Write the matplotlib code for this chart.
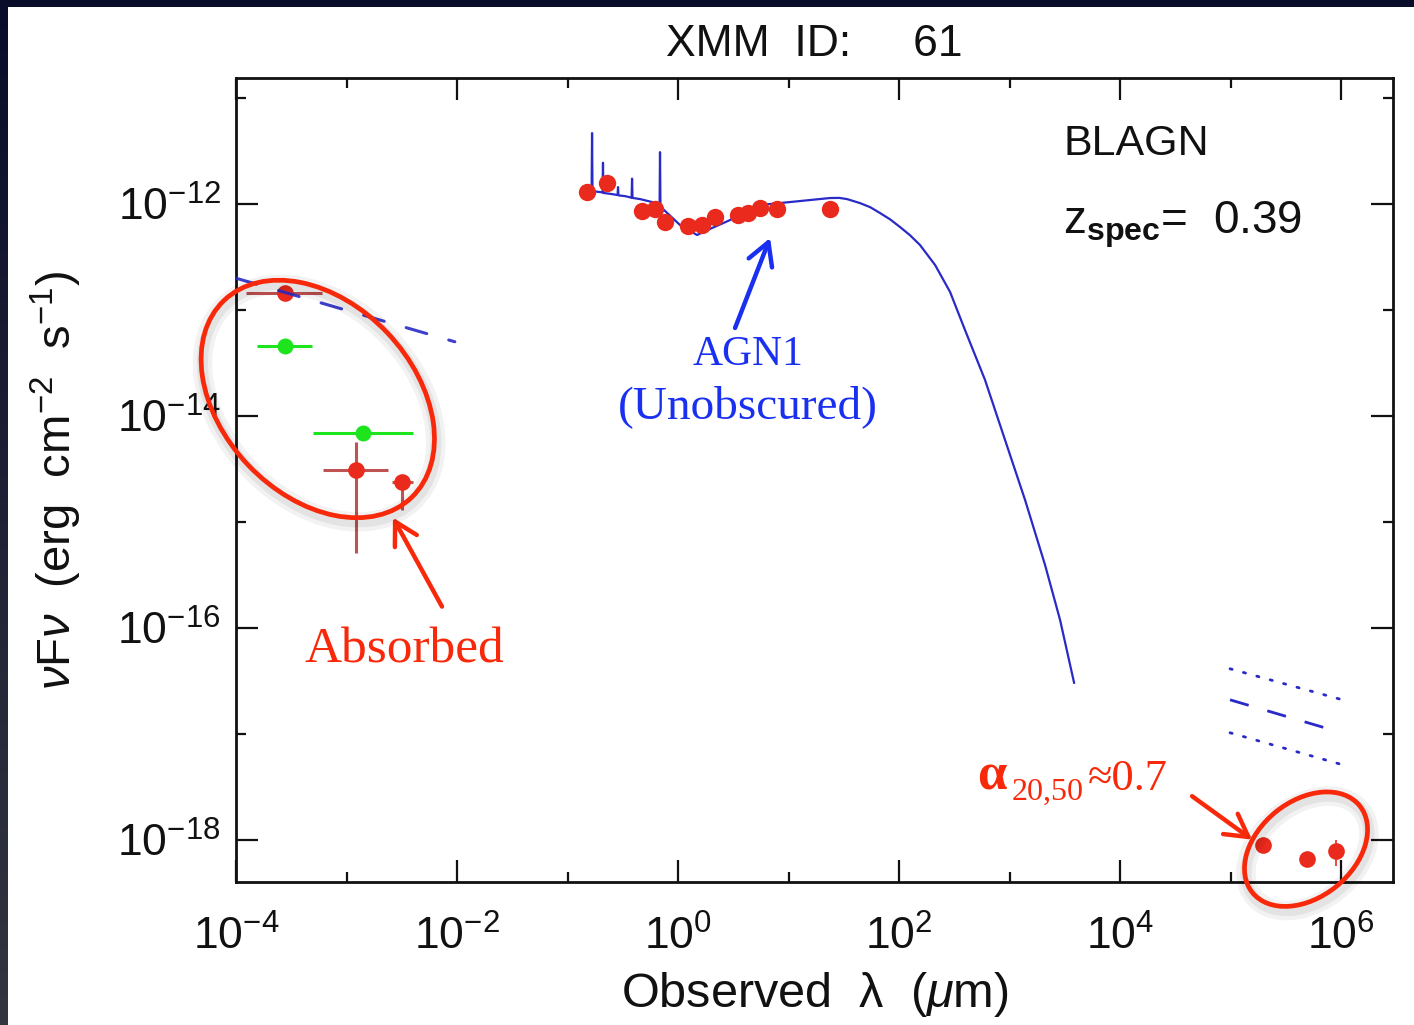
import numpy as np
import matplotlib
matplotlib.use('Agg')
import matplotlib.pyplot as plt
import matplotlib.patheffects as pe
from matplotlib.patches import Ellipse, Rectangle
from matplotlib.ticker import FixedLocator, FuncFormatter, NullFormatter
from matplotlib.colors import LinearSegmentedColormap

plt.rcParams['font.family'] = ['Liberation Sans', 'DejaVu Sans']
plt.rcParams['mathtext.fontset'] = 'custom'
plt.rcParams['mathtext.rm'] = 'Liberation Sans'
plt.rcParams['mathtext.it'] = 'Liberation Sans:italic'
plt.rcParams['mathtext.bf'] = 'Liberation Sans:bold'

# --- photometry (log10 lambda [um], log10 nuFnu [erg cm^-2 s^-1]) ---
# X-ray, red band
xr_red_lam = [-3.56, -2.91, -2.50]
xr_red_flux = [-12.84, -14.51, -14.62]
xr_red_lam_lo = [-3.91, -3.21, -2.59]
xr_red_lam_hi = [-3.22, -2.62, -2.40]
xr_red_flux_lo = [-12.84, -15.29, -14.89]
xr_red_flux_hi = [-12.84, -14.25, -14.62]

# X-ray, green band
xr_grn_lam = [-3.56, -2.85]
xr_grn_flux = [-13.34, -14.16]
xr_grn_lam_lo = [-3.81, -3.30]
xr_grn_lam_hi = [-3.31, -2.40]

# X-ray power law
xr_pl_lam = [-4.0, -2.02]
xr_pl_flux = [-12.70, -13.30]

# optical / IR photometry
opt_lam = [-0.823, -0.643, -0.326, -0.208, -0.118, 0.09, 0.217, 0.335,
           0.543, 0.633, 0.742, 0.896, 1.375]
opt_flux = [-11.89, -11.80, -12.07, -12.05, -12.17, -12.21, -12.20, -12.12,
            -12.10, -12.08, -12.04, -12.05, -12.05]

# AGN1 template (with emission lines)
agn_lam = [-0.796, -0.782, -0.778, -0.774, -0.706, -0.683, -0.679, -0.675,
           -0.597, -0.547, -0.543, -0.539, -0.480, -0.420, -0.416, -0.412,
           -0.344, -0.235, -0.167, -0.163, -0.159, -0.145, 0.018, 0.172,
           0.308, 0.471, 0.606, 0.742, 1.014, 1.376, 1.46, 1.529, 1.647, 1.74,
           1.828, 1.92, 2.009, 2.10, 2.190, 2.326, 2.462, 2.597, 2.778, 2.959,
           3.140, 3.321, 3.457, 3.584]
agn_flux = [-11.868, -11.875, -11.33, -11.878, -11.887, -11.89, -11.61, -11.895,
            -11.906, -11.915, -11.84, -11.918, -11.925, -11.94, -11.76, -11.942,
            -11.953, -11.981, -12.02, -11.51, -12.025, -12.038, -12.198, -12.292,
            -12.226, -12.151, -12.057, -12.009, -11.981, -11.943, -11.942, -11.953,
            -11.991, -12.03, -12.085, -12.145, -12.217, -12.295, -12.387, -12.575,
            -12.830, -13.189, -13.660, -14.226, -14.792, -15.406, -15.925, -16.519]

# radio photometry
rad_lam = [5.294, 5.692, 5.955]
rad_flux = [-18.05, -18.18, -18.11]
rad_flux_lo = [-18.05, -18.18, -18.25]
rad_flux_hi = [-18.05, -18.18, -18.00]

# radio slope lines
rad_mid_lam = [4.995, 5.882]
rad_mid_flux = [-16.68, -16.953]
rad_up_lam = [4.995, 6.009]
rad_up_flux = [-16.387, -16.679]
rad_dn_lam = [4.995, 6.009]
rad_dn_flux = [-16.991, -17.292]

xticks = [-4, -2, 0, 2, 4, 6]
yticks = [-18, -16, -14, -12]

RED = '#ea2a1c'
ERR_RED = '#b43434'
GREEN = '#1ee41e'
BLUE = '#2a2ac8'
NOTE_RED = '#f8290a'
NOTE_BLUE = '#1a30f0'


def p(v):
    return 10.0 ** np.asarray(v, dtype=float)


W, H = 1414, 1025
fig = plt.figure(figsize=(W / 100, H / 100), dpi=100)

# slide background with white panel
bg = fig.add_axes([0, 0, 1, 1], zorder=-5)
grad = np.linspace(0, 1, 256).reshape(-1, 1)
bg.imshow(grad, aspect='auto', extent=[0, 1, 0, 1], origin='upper',
          cmap=LinearSegmentedColormap.from_list('bg', ['#0a0d2a', '#33363f']))
bg.add_patch(Rectangle((8 / W, 0), 1, 1 - 7 / H, facecolor='white',
                       edgecolor='none'))
bg.set_xlim(0, 1)
bg.set_ylim(0, 1)
bg.axis('off')

ax = fig.add_axes([236 / W, 1 - 882 / H, 1157 / W, 804 / H])
ax.set_facecolor('white')
ax.set_xscale('log')
ax.set_yscale('log')
ax.set_xlim(1e-4, 10 ** 6.47)
ax.set_ylim(10 ** -18.40, 10 ** -10.81)

# X-ray points
xl = p(xr_red_lam)
yl = p(xr_red_flux)
ax.errorbar(xl, yl,
            xerr=[xl - p(xr_red_lam_lo), p(xr_red_lam_hi) - xl],
            yerr=[yl - p(xr_red_flux_lo), p(xr_red_flux_hi) - yl],
            fmt='none', ecolor=ERR_RED, elinewidth=2.2, alpha=0.85, zorder=3)
ax.plot(xl, yl, 'o', color=RED, ms=12, mec='none', zorder=4)

xg = p(xr_grn_lam)
ax.errorbar(xg, p(xr_grn_flux),
            xerr=[xg - p(xr_grn_lam_lo), p(xr_grn_lam_hi) - xg],
            fmt='o', color=GREEN, ms=11.5, mec='none', elinewidth=2.2, zorder=4)

ax.plot(p(xr_pl_lam), p(xr_pl_flux), color=BLUE, lw=2.2,
        dashes=(7, 7.5), dash_capstyle='round', zorder=5, alpha=0.9)

# template and optical/IR photometry
ax.plot(p(agn_lam), p(agn_flux), color=BLUE, lw=1.6, zorder=3)
ax.plot(p(opt_lam), p(opt_flux), 'o', color=RED, ms=12.5, mec='none', zorder=4)

# radio
xrd = p(rad_lam)
yrd = p(rad_flux)
ax.errorbar(xrd, yrd, yerr=[yrd - p(rad_flux_lo), p(rad_flux_hi) - yrd],
            fmt='o', color=RED, ms=12, mec='none', elinewidth=1.2, zorder=4)
ax.plot(p(rad_mid_lam), p(rad_mid_flux), color=BLUE, lw=2.0, dashes=(7, 7))
ax.plot(p(rad_up_lam), p(rad_up_flux), color=BLUE, lw=2.0,
        dashes=(0.8, 4.2), dash_capstyle='round')
ax.plot(p(rad_dn_lam), p(rad_dn_flux), color=BLUE, lw=2.0,
        dashes=(0.8, 4.2), dash_capstyle='round')

# axes styling
fmt = FuncFormatter(lambda v, pos: r'$10^{%d}$' % round(np.log10(v)))
ax.xaxis.set_major_locator(FixedLocator(p(xticks)))
ax.xaxis.set_minor_locator(FixedLocator(p([-3, -1, 1, 3, 5])))
ax.yaxis.set_major_locator(FixedLocator(p(yticks)))
ax.yaxis.set_minor_locator(FixedLocator(p([-17, -15, -13, -11])))
ax.xaxis.set_major_formatter(fmt)
ax.yaxis.set_major_formatter(fmt)
ax.xaxis.set_minor_formatter(NullFormatter())
ax.yaxis.set_minor_formatter(NullFormatter())
ax.tick_params(which='both', direction='in', top=True, right=True,
               width=1.6, colors='#111111', labelsize=32)
ax.tick_params(which='major', length=16)
ax.tick_params(which='minor', length=7.5)
ax.tick_params(axis='x', which='major', pad=24)
ax.tick_params(axis='y', which='major', pad=11)
for s in ax.spines.values():
    s.set_linewidth(2.0)
    s.set_color('#111111')

ax.set_title('XMM  ID:     61', fontsize=32, pad=16, color='#111111')
ax.set_xlabel(r'Observed  λ  ($\mu$m)', fontsize=35, labelpad=8,
              color='#111111')
ax.set_ylabel(r'$\nu$F$\nu$  (erg  cm$^{-2}$  s$^{-1}$)', fontsize=34,
              labelpad=24, color='#111111')

ax.text(10 ** 3.484, 10 ** -11.434, 'BLAGN', fontsize=31, va='center',
        ha='left', color='#111111')
ax.text(10 ** 3.484, 10 ** -12.20, r'z$_{\mathbf{spec}}$=  0.39', fontsize=33,
        va='center', ha='left', color='#111111')

# annotations
SERIF = ['Liberation Serif', 'DejaVu Serif']
glow = [pe.Stroke(linewidth=14, foreground=(0, 0, 0, 0.05), offset=(1, -3)),
        pe.Stroke(linewidth=8, foreground=(0, 0, 0, 0.06), offset=(1, -3)),
        pe.Normal()]


def ring(lam, flux, w_px, h_px, angle):
    cx, cy = ax.transData.transform((10 ** lam, 10 ** flux)) / fig.dpi
    e = Ellipse((cx, cy), w_px / fig.dpi, h_px / fig.dpi, angle=angle,
                transform=fig.dpi_scale_trans, fill=False,
                edgecolor=NOTE_RED, lw=3.4, zorder=6)
    e.set_path_effects(glow)
    fig.add_artist(e)


ring(-3.26, -13.84, 272, 192, -46.5)
ring(5.683, -18.09, 138, 96, 39)


def arrow(lam0, flux0, lam1, flux1, color):
    ax.annotate('', xy=(10 ** lam1, 10 ** flux1), xytext=(10 ** lam0, 10 ** flux0),
                arrowprops=dict(arrowstyle='->, head_length=0.8, head_width=0.45',
                                color=color, lw=3.2, mutation_scale=20,
                                shrinkA=0, shrinkB=0), zorder=6)


arrow(-2.136, -15.80, -2.58, -14.96, NOTE_RED)
arrow(0.516, -13.17, 0.833, -12.32, NOTE_BLUE)
arrow(4.652, -17.59, 5.195, -18.0, NOTE_RED)

ax.text(10 ** -2.48, 10 ** -16.21, 'Absorbed', family=SERIF, fontsize=37,
        color=NOTE_RED, ha='center', va='center')
ax.text(10 ** 0.633, 10 ** -13.42, 'AGN1', family=SERIF, fontsize=30,
        color=NOTE_BLUE, ha='center', va='center')
ax.text(10 ** 0.633, 10 ** -13.91, '(Unobscured)', family=SERIF, fontsize=34,
        color=NOTE_BLUE, ha='center', va='center')

ax.text(10 ** 2.706, 10 ** -17.528, 'α', family=SERIF, fontsize=38,
        weight='bold', color=NOTE_RED, ha='left', va='baseline')
ax.text(10 ** 3.02, 10 ** -17.62, '20,50', family=SERIF, fontsize=23,
        color=NOTE_RED, ha='left', va='baseline')
ax.text(10 ** 3.71, 10 ** -17.528, '≈0.7', family=SERIF, fontsize=32,
        color=NOTE_RED, ha='left', va='baseline')

fig.savefig('out.png', dpi=100)
